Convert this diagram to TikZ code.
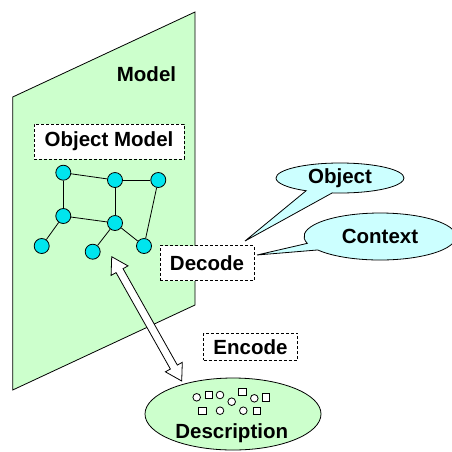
\documentclass[tikz,border=0pt]{standalone}
\usepackage{fontspec}
\setmainfont{Liberation Sans}
\usetikzlibrary{shapes.geometric,shapes.callouts,calc}
\definecolor{planegreen}{HTML}{CCFFCC}
\definecolor{calloutcyan}{HTML}{CCFFFF}
\definecolor{vertexcyan}{HTML}{00E5EE}

\begin{document}
\begin{tikzpicture}[x=1pt,y=-1pt,
		txt/.style = {font=\fontsize{20.5}{24}\selectfont\bfseries},
		dashbox/.style = {txt, draw, dashed, dash pattern=on 3pt off 2pt, fill=white, inner sep=0pt},
		vertex/.style = {circle, draw, fill=vertexcyan, minimum size=15pt, inner sep=0pt},
		bubble/.style = {txt, ellipse callout, draw, fill=calloutcyan, inner sep=0pt},
		token/.style = {draw, fill=white, line width=0.8pt},
		line width=0.8pt]
		\useasboundingbox (0,0) rectangle (452,451);
		% model plane
		\draw[fill=planegreen] (12.7,97) -- (195,12) -- (195,305) -- (12.7,390) -- cycle;
		\node[txt] (model) at (146.5,74) {Model};
		\node[dashbox, minimum width=150pt, minimum height=35pt] (objmodel) at (109,141.5) {Object Model};
		% graph
		\node[vertex] (n1) at (63.3,172.7) {};
		\node[vertex] (n2) at (115,180) {};
		\node[vertex] (n3) at (158.3,180) {};
		\node[vertex] (n4) at (63.3,216) {};
		\node[vertex] (n5) at (115,223) {};
		\node[vertex] (n6) at (41.7,246) {};
		\node[vertex] (n7) at (92.7,251.7) {};
		\node[vertex] (n8) at (144,246) {};
		\foreach \a/\b in {n1/n2, n2/n3, n1/n4, n2/n5, n4/n5, n3/n8, n4/n6, n5/n7, n5/n8}
			\draw (\a) -- (\b);
		% decode and its callouts
		\node[dashbox, minimum width=94pt, minimum height=35pt] (decode) at (207,263.3) {Decode};
		\coordinate (objtip) at (245,241);
		\coordinate (ctxtip) at (257,255);
		\node[bubble, minimum width=128pt, minimum height=30pt,
			callout absolute pointer={(objtip)}, callout pointer arc=25] (object) at (340,178) {Object};
		\node[bubble, minimum width=152pt, minimum height=47pt,
			callout absolute pointer={(ctxtip)}, callout pointer arc=18] (context) at (380,236.5) {Context};
		% double arrow
		\coordinate (up) at (111.7,256.7);
		\coordinate (down) at (181.7,381);
		\draw[fill=white] (up)
			-- ($(up)!16pt!(down)!9.7pt!90:(down)$)
			-- ($(up)!16pt!(down)!4pt!90:(down)$)
			-- ($(down)!16pt!(up)!4pt!-90:(up)$)
			-- ($(down)!16pt!(up)!9.7pt!-90:(up)$)
			-- (down)
			-- ($(down)!16pt!(up)!9.7pt!90:(up)$)
			-- ($(down)!16pt!(up)!4pt!90:(up)$)
			-- ($(up)!16pt!(down)!4pt!-90:(down)$)
			-- ($(up)!16pt!(down)!9.7pt!-90:(down)$)
			-- cycle;
		\node[dashbox, minimum width=94pt, minimum height=27pt] (encode) at (250.5,346.7) {Encode};
		% description
		\node[ellipse, draw, fill=planegreen, minimum width=176pt, minimum height=72pt] (desc) at (233,414) {};
		\node[txt] (desctext) at (231.7,433) {Description};
		\foreach \x/\y in {196.7/397.3, 220/395, 231.7/401.7, 254.3/398.3, 220/410.7, 243.3/410.7}
			\draw[token] (\x,\y) circle (3.8);
		\foreach \x/\y in {209/395, 242.3/391.7, 266/397.3, 202.3/410.7, 256.7/410.7}
			\draw[token] (\x-3.7,\y-3.7) rectangle (\x+3.7,\y+3.7);
	\end{tikzpicture}
\end{document}
